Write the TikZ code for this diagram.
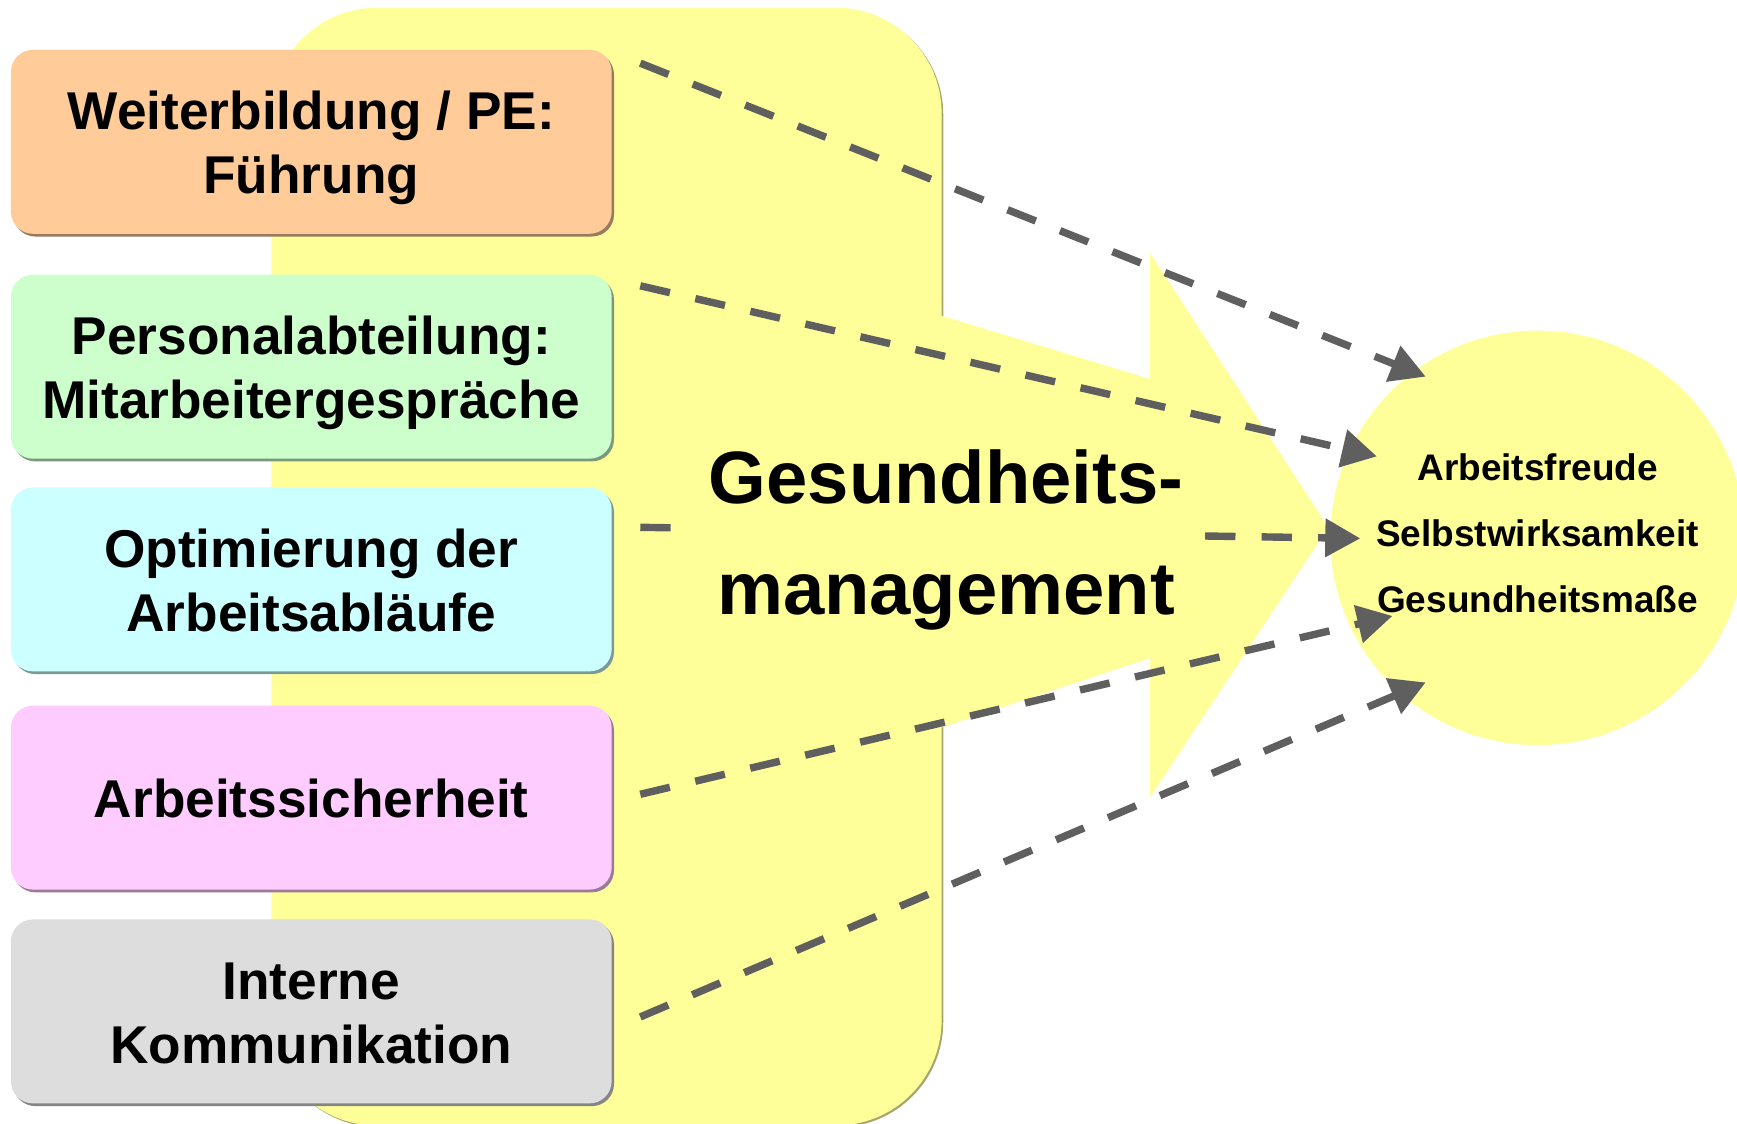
\documentclass[tikz,border=0pt]{standalone}
\usepackage{fontspec}
\setmainfont{Liberation Sans}
\usetikzlibrary{arrows.meta,shadows}
\definecolor{ylw}{HTML}{FFFF99}
\definecolor{ylwshadow}{HTML}{A5A56E}
\definecolor{peach}{HTML}{FFCC99}
\definecolor{mint}{HTML}{CCFFCC}
\definecolor{aqua}{HTML}{CCFFFF}
\definecolor{rose}{HTML}{FFCCFF}
\definecolor{silver}{HTML}{DDDDDD}
\definecolor{arrowgray}{HTML}{5F5F5F}
\newcommand\mystrut{\rule[-0.21em]{0pt}{1.16em}}
\begin{document}
\begin{tikzpicture}[x=0.01cm,y=-0.01cm,
  srcbox/.style={draw=none, fill=#1, rounded corners=0.2cm, minimum width=5.42cm,
    minimum height=1.66cm, align=center, inner sep=0pt,
    font=\fontsize{13.66pt}{16.45pt}\selectfont\bfseries,
    drop shadow={shadow xshift=0.6pt, shadow yshift=-0.7pt, fill=#1!60!black, opacity=1}},
  flow/.style={draw=arrowgray, line width=1.9pt, dash pattern=on 7.8pt off 6.7pt,
    -{Triangle[length=9pt,width=9.5pt]}},
]
\path[use as bounding box] (0,0) rectangle (1568,1014);
\clip (0,0) rectangle (1568,1014);
% big yellow shape
\fill[ylwshadow, rounded corners=0.95cm] (246.5,8.5) rectangle (851.5,1017.5);
\fill[ylw, rounded corners=0.95cm] (245,7) rectangle (850,1016);
\fill[ylw] (840,282) -- (1038,342) -- (1038,228) -- (1199,476) -- (1038,720) -- (1038,594) -- (840,660) -- cycle;
% goal circle
\node[circle, fill=ylw, minimum size=3.74cm, inner sep=0pt] (goal) at (1388,485.5) {};
\node[inner sep=0pt, align=center, font=\fontsize{9.5pt}{17.0pt}\selectfont\bfseries]
  (goaltext) at (1388,481)
  {\mystrut Arbeitsfreude\\\mystrut Selbstwirksamkeit\\\mystrut Gesundheitsmaße};
% source boxes
\node[srcbox=peach] (b1) at (281,128) {\mystrut Weiterbildung / PE:\\\mystrut Führung};
\node[srcbox=mint] (b2) at (281,331) {\mystrut Personalabteilung:\\\mystrut Mitarbeitergespräche};
\node[srcbox=aqua] (b3) at (281,523) {\mystrut Optimierung der\\\mystrut Arbeitsabläufe};
\node[srcbox=rose] (b4) at (281,720) {\mystrut Arbeitssicherheit};
\node[srcbox=silver] (b5) at (281,913) {\mystrut Interne\\\mystrut Kommunikation};
% connector ends
\coordinate (s1) at (578,57);
\coordinate (s2) at (578,258);
\coordinate (s3) at (578,476);
\coordinate (s4) at (578,717);
\coordinate (s5) at (578,918);
\coordinate (t1) at (1287,340);
\coordinate (t2) at (1243,412);
\coordinate (t3) at (1228,486);
\coordinate (t4) at (1257,556);
\coordinate (t5) at (1287,616);
\draw[flow] (s1) -- (t1);
\draw[flow] (s2) -- (t2);
\draw[flow] (s3) -- (t3);
\draw[flow] (s4) -- (t4);
\draw[flow] (s5) -- (t5);
% central label
\node[fill=ylw, inner xsep=0.2cm, inner ysep=0.05cm, align=center,
  font=\fontsize{19.06pt}{28.5pt}\selectfont\bfseries] (gm) at (854,487)
  {Gesundheits-\\management};
\end{tikzpicture}
\end{document}
